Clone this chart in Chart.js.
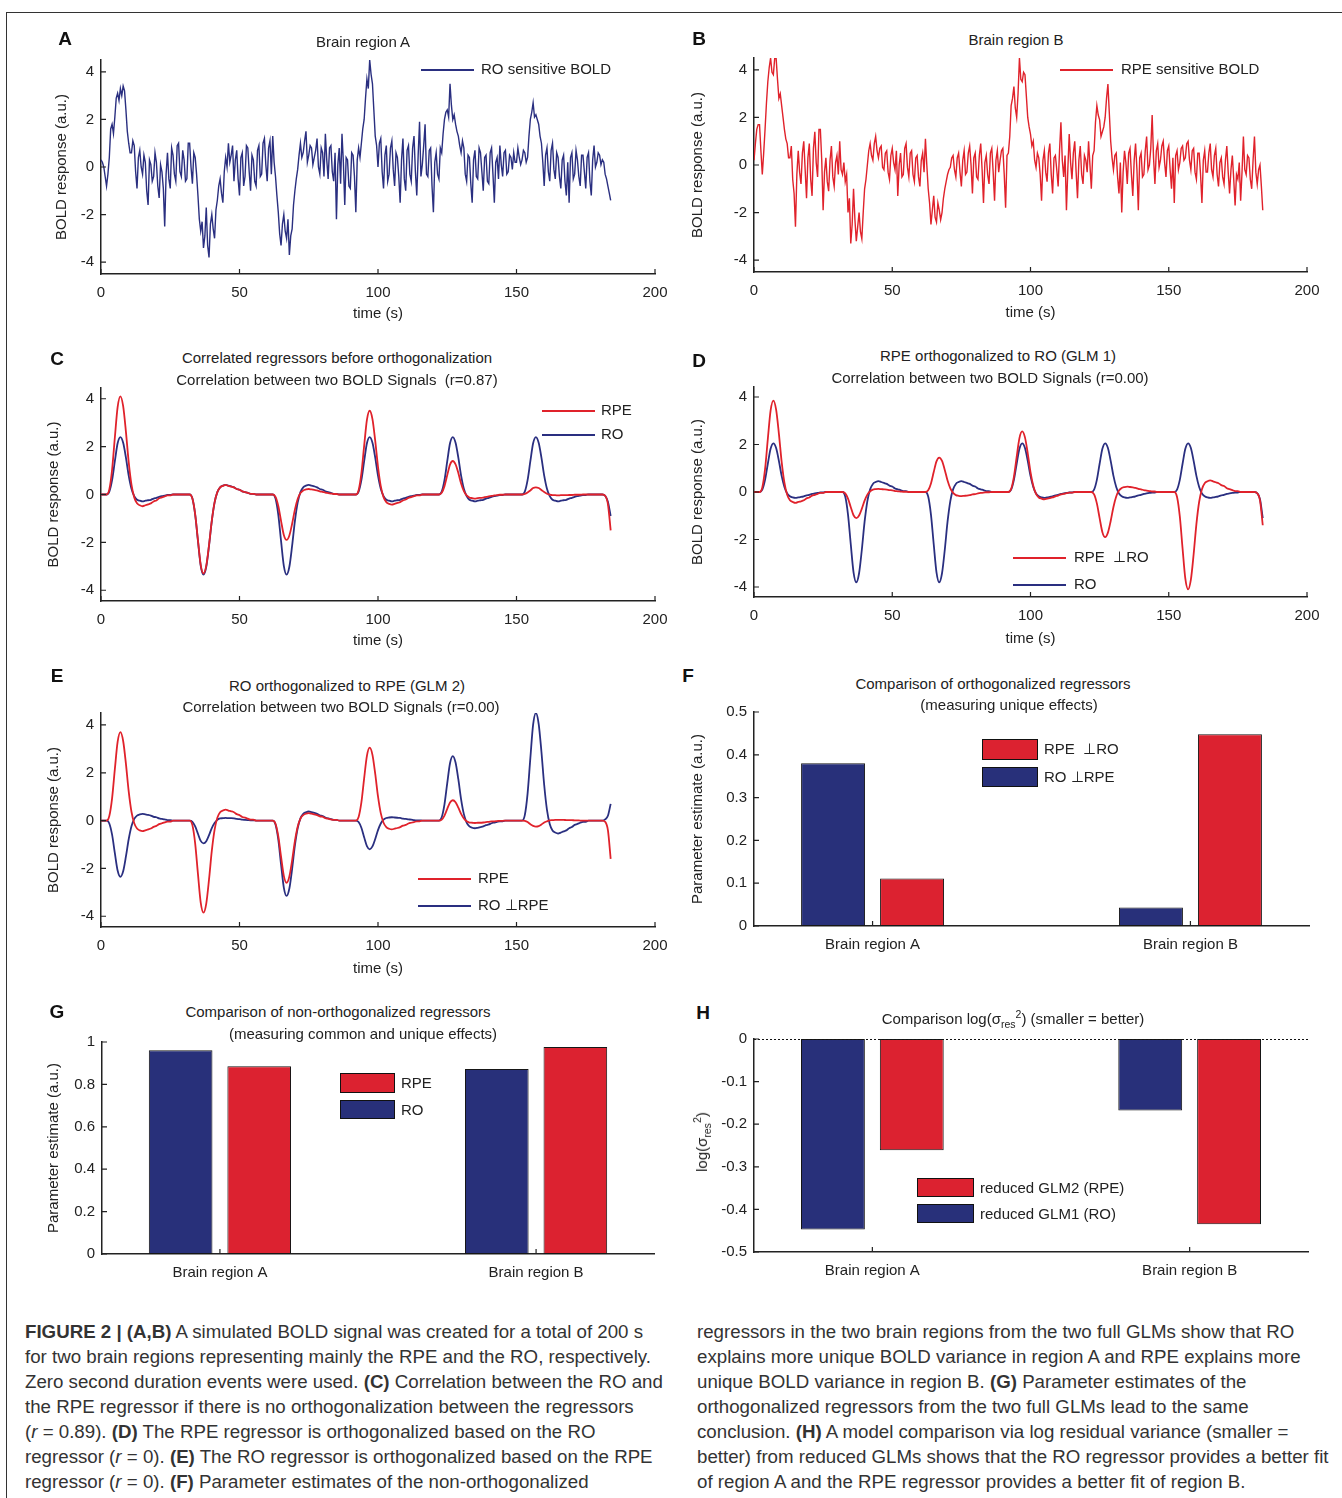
<!DOCTYPE html>
<html><head><meta charset="utf-8">
<script src="https://cdn.jsdelivr.net/npm/chart.js@4.4.1/dist/chart.umd.min.js"></script>
<style>
body{margin:0;background:#fff;}
#page{position:relative;width:1342px;height:1498px;overflow:hidden;font-family:"Liberation Sans",Arial,Helvetica,sans-serif;color:#222;background:#fff;}
.frame{position:absolute;left:6px;top:12px;width:1340px;height:1490px;border-left:1px solid #333;border-top:1px solid #333;}
canvas{position:absolute;}
.t{position:absolute;transform:translate(-50%,-50%);white-space:nowrap;font-size:15px;color:#222;z-index:2;}
.lt{position:absolute;font-weight:bold;font-size:19px;transform:translate(-50%,-50%);z-index:2;color:#111;}
.cap{position:absolute;white-space:nowrap;font-size:18.7px;color:#333;transform:translateY(-50%);}
.rot{position:absolute;transform:translate(-50%,-50%) rotate(-90deg);white-space:nowrap;font-size:15px;z-index:2;}
sub,sup{font-size:10.5px;}
</style></head>
<body>
<div id="page">
<div class="frame"></div>

<div class="lt" style="left:65px;top:39px">A</div>
<div class="lt" style="left:699px;top:39px">B</div>
<div class="lt" style="left:57px;top:359px">C</div>
<div class="lt" style="left:699px;top:361px">D</div>
<div class="lt" style="left:57px;top:676px">E</div>
<div class="lt" style="left:688px;top:676px">F</div>
<div class="lt" style="left:57px;top:1012px">G</div>
<div class="lt" style="left:703px;top:1013px">H</div>

<div class="t" style="left:363px;top:41px">Brain region A</div>
<div class="t" style="left:1016px;top:39px">Brain region B</div>
<div class="t" style="left:337px;top:357px">Correlated regressors before orthogonalization</div>
<div class="t" style="left:337px;top:379px">Correlation between two BOLD Signals&nbsp; (r=0.87)</div>
<div class="t" style="left:998px;top:355px">RPE orthogonalized to RO (GLM 1)</div>
<div class="t" style="left:990px;top:377px">Correlation between two BOLD Signals (r=0.00)</div>
<div class="t" style="left:347px;top:685px">RO orthogonalized to RPE (GLM 2)</div>
<div class="t" style="left:341px;top:706px">Correlation between two BOLD Signals (r=0.00)</div>
<div class="t" style="left:993px;top:683px">Comparison of orthogonalized regressors</div>
<div class="t" style="left:1009px;top:704px">(measuring unique effects)</div>
<div class="t" style="left:338px;top:1011px">Comparison of non-orthogonalized regressors</div>
<div class="t" style="left:363px;top:1033px">(measuring common and unique effects)</div>
<div class="t" style="left:1013px;top:1019px">Comparison log(σ<sub>res</sub><sup>2</sup>) (smaller = better)</div>
<div class="rot" style="left:702px;top:1142px">log(σ<sub>res</sub><sup>2</sup>)</div>

<div class="cap" style="left:25px;top:1332px"><b>FIGURE 2 | (A,B)</b> A simulated BOLD signal was created for a total of 200 s</div>
<div class="cap" style="left:25px;top:1357px">for two brain regions representing mainly the RPE and the RO, respectively.</div>
<div class="cap" style="left:25px;top:1382px">Zero second duration events were used. <b>(C)</b> Correlation between the RO and</div>
<div class="cap" style="left:25px;top:1407px">the RPE regressor if there is no orthogonalization between the regressors</div>
<div class="cap" style="left:25px;top:1432px">(<i>r</i> = 0.89). <b>(D)</b> The RPE regressor is orthogonalized based on the RO</div>
<div class="cap" style="left:25px;top:1457px">regressor (<i>r</i> = 0). <b>(E)</b> The RO regressor is orthogonalized based on the RPE</div>
<div class="cap" style="left:25px;top:1482px">regressor (<i>r</i> = 0). <b>(F)</b> Parameter estimates of the non-orthogonalized</div>
<div class="cap" style="left:697px;top:1332px">regressors in the two brain regions from the two full GLMs show that RO</div>
<div class="cap" style="left:697px;top:1357px">explains more unique BOLD variance in region A and RPE explains more</div>
<div class="cap" style="left:697px;top:1382px">unique BOLD variance in region B. <b>(G)</b> Parameter estimates of the</div>
<div class="cap" style="left:697px;top:1407px">orthogonalized regressors from the two full GLMs lead to the same</div>
<div class="cap" style="left:697px;top:1432px">conclusion. <b>(H)</b> A model comparison via log residual variance (smaller =</div>
<div class="cap" style="left:697px;top:1457px">better) from reduced GLMs shows that the RO regressor provides a better fit</div>
<div class="cap" style="left:697px;top:1482px">of region A and the RPE regressor provides a better fit of region B.</div>
</div>

<script>
// ---------------- DATA ----------------
// time grid of the simulated (noisy) BOLD signals, seconds
const T_HALF = [0,0.5,1,1.5,2,2.5,3,3.5,4,4.5,5,5.5,6,6.5,7,7.5,8,8.5,9,9.5,10,10.5,11,11.5,12,12.5,13,13.5,14,14.5,15,15.5,16,16.5,17,17.5,18,18.5,19,19.5,
20,20.5,21,21.5,22,22.5,23,23.5,24,24.5,25,25.5,26,26.5,27,27.5,28,28.5,29,29.5,30,30.5,31,31.5,32,32.5,33,33.5,34,34.5,35,35.5,36,36.5,37,37.5,38,38.5,39,39.5,
40,40.5,41,41.5,42,42.5,43,43.5,44,44.5,45,45.5,46,46.5,47,47.5,48,48.5,49,49.5,50,50.5,51,51.5,52,52.5,53,53.5,54,54.5,55,55.5,56,56.5,57,57.5,58,58.5,59,59.5,
60,60.5,61,61.5,62,62.5,63,63.5,64,64.5,65,65.5,66,66.5,67,67.5,68,68.5,69,69.5,70,70.5,71,71.5,72,72.5,73,73.5,74,74.5,75,75.5,76,76.5,77,77.5,78,78.5,79,79.5,
80,80.5,81,81.5,82,82.5,83,83.5,84,84.5,85,85.5,86,86.5,87,87.5,88,88.5,89,89.5,90,90.5,91,91.5,92,92.5,93,93.5,94,94.5,95,95.5,96,96.5,97,97.5,98,98.5,99,99.5,
100,100.5,101,101.5,102,102.5,103,103.5,104,104.5,105,105.5,106,106.5,107,107.5,108,108.5,109,109.5,110,110.5,111,111.5,112,112.5,113,113.5,114,114.5,115,115.5,116,116.5,117,117.5,118,118.5,119,119.5,
120,120.5,121,121.5,122,122.5,123,123.5,124,124.5,125,125.5,126,126.5,127,127.5,128,128.5,129,129.5,130,130.5,131,131.5,132,132.5,133,133.5,134,134.5,135,135.5,136,136.5,137,137.5,138,138.5,139,139.5,
140,140.5,141,141.5,142,142.5,143,143.5,144,144.5,145,145.5,146,146.5,147,147.5,148,148.5,149,149.5,150,150.5,151,151.5,152,152.5,153,153.5,154,154.5,155,155.5,156,156.5,157,157.5,158,158.5,159,159.5,
160,160.5,161,161.5,162,162.5,163,163.5,164,164.5,165,165.5,166,166.5,167,167.5,168,168.5,169,169.5,170,170.5,171,171.5,172,172.5,173,173.5,174,174.5,175,175.5,176,176.5,177,177.5,178,178.5,179,179.5,
180,180.5,181,181.5,182,182.5,183,183.5,184];
// time grid of the regressors, seconds
const T = [0,1,2,3,4,5,6,7,8,9,10,11,12,13,14,15,16,17,18,19,20,21,22,23,24,25,26,27,28,29,30,31,32,33,34,35,36,37,38,39,40,41,42,43,44,45,46,47,48,49,50,51,52,53,54,55,56,57,58,59,60,61,62,63,64,65,66,67,68,69,70,71,72,73,74,75,76,77,78,79,80,81,82,83,84,85,86,87,88,89,90,91,92,93,94,95,96,97,98,99,100,101,102,103,104,105,106,107,108,109,110,111,112,113,114,115,116,117,118,119,120,121,122,123,124,125,126,127,128,129,130,131,132,133,134,135,136,137,138,139,140,141,142,143,144,145,146,147,148,149,150,151,152,153,154,155,156,157,158,159,160,161,162,163,164,165,166,167,168,169,170,171,172,173,174,175,176,177,178,179,180,181,182,183,184];

const X_TICKS_TIME = [0,50,100,150,200];
const Y_TICKS_BOLD = [-4,-2,0,2,4];
const Y_TICKS_F = [0,0.1,0.2,0.3,0.4,0.5];
const Y_TICKS_G = [0,0.2,0.4,0.6,0.8,1];
const Y_TICKS_H = [-0.5,-0.4,-0.3,-0.2,-0.1,0];
const REGIONS = ['Brain region A','Brain region B'];
const REGION_POS = [1,2];

// Panel A: RO sensitive BOLD (region A), on T_HALF
const A_RO_BOLD = [
0.3,0.2,0.0,-0.4,-0.8,-0.3,0.4,1.6,1.8,1.4,2.1,2.9,3.1,2.8,3.3,3.0,3.4,3.2,2.4,1.5,
1.0,0.6,0.6,1.1,0.9,-0.2,-0.9,0.4,0.7,0.0,-0.3,0.5,0.2,-1.0,-1.6,0.3,0.1,-0.6,-0.4,0.6,
0.2,-0.8,-1.3,0.1,-0.2,-0.9,-2.5,-0.3,0.6,-0.5,-0.9,0.8,0.5,-0.3,-0.6,0.9,1.0,-0.2,-0.4,0.7,
0.3,-0.6,-0.5,1.0,1.0,0.0,-0.7,0.6,0.4,-0.3,-1.2,-2.2,-2.7,-2.3,-3.4,-2.9,-1.7,-3.3,-3.8,-2.4,
-2.0,-2.6,-3.0,-1.8,-1.4,-0.8,-0.5,-1.1,-1.5,-0.2,0.4,0.0,1.0,0.2,0.5,0.9,-0.6,0.3,0.7,-0.5,
-1.2,0.4,0.6,-0.8,-0.4,0.9,0.8,-0.2,-1.0,0.5,0.3,-0.6,-0.8,0.7,0.9,-0.4,-0.3,1.0,1.2,0.1,
-0.6,0.8,1.1,-0.3,1.3,0.2,-0.4,-1.2,-1.9,-2.8,-3.3,-2.4,-2.0,-2.7,-3.0,-2.2,-3.7,-2.9,-2.6,-1.6,
-1.0,-0.5,-0.1,0.5,1.0,0.4,0.6,1.1,1.5,0.2,0.5,0.9,0.8,0.1,0.4,0.7,1.2,0.0,-0.3,0.8,
0.6,-0.4,1.4,0.3,-0.5,0.8,0.9,-0.2,-0.6,0.6,-2.2,0.1,0.8,-0.7,1.4,0.2,-1.6,0.4,0.3,-0.8,
-0.9,0.6,0.5,-0.4,-1.9,0.3,0.8,0.4,1.0,1.6,2.0,2.9,3.7,3.3,4.5,3.9,3.5,2.4,1.3,0.9,
0.0,1.0,1.2,-0.2,-0.9,0.5,0.9,-0.6,-0.3,0.8,1.1,-0.1,-0.8,0.6,0.4,-0.4,-1.5,0.3,1.2,-0.5,
-1.0,0.7,0.9,-0.3,-0.6,0.8,1.3,-0.2,-1.2,0.5,1.9,-0.4,0.1,0.9,1.8,-0.3,-0.4,0.7,0.8,-0.8,
-1.9,0.2,0.6,-0.3,-0.5,0.8,0.6,1.4,2.0,2.3,2.4,2.1,3.5,2.6,2.0,2.2,1.8,1.5,1.3,0.9,
0.6,1.1,0.8,-0.3,-0.6,0.5,0.4,-0.7,-1.5,0.3,0.7,-0.4,-0.5,0.8,0.6,-0.2,-1.0,0.4,0.5,-0.6,
-0.7,0.6,0.8,-0.3,-1.5,0.2,0.4,-0.5,0.9,0.1,-0.4,0.6,0.7,-0.3,-0.2,0.5,0.4,-0.1,0.6,0.2,
0.2,0.8,0.4,0.1,0.3,0.7,0.6,0.2,0.4,1.3,2.0,2.3,2.7,2.1,2.2,2.0,1.8,1.3,1.0,0.2,
-0.8,0.5,0.8,-0.2,-0.6,0.7,1.0,-0.1,-0.5,0.6,0.4,-0.4,-0.9,0.3,0.5,-0.6,-1.2,0.2,-1.5,0.4,
0.6,-0.5,-0.3,0.7,0.3,-0.4,-0.8,0.5,0.5,-0.2,-0.9,0.4,0.6,-0.6,-1.2,0.3,0.9,0.0,0.2,0.6,
0.5,0.1,0.3,0.2,-0.3,-0.5,-0.8,-1.1,-1.4];

// Panel B: RPE sensitive BOLD (region B), on T_HALF
const B_RPE_BOLD = [
0.2,0.9,1.5,1.7,1.7,0.6,-0.4,0.5,1.5,2.6,3.5,4.1,4.5,3.9,3.8,4.5,4.5,3.6,2.8,3.0,
2.5,2.0,1.5,1.1,0.9,0.3,0.3,0.8,-0.6,-1.2,-2.6,-0.4,0.6,-0.3,-0.8,0.5,1.0,-0.2,-1.4,0.3,
0.9,-0.6,-1.3,0.7,1.4,0.1,-0.5,1.5,1.5,0.2,-1.9,-0.3,0.3,-0.7,-1.1,0.2,0.8,-0.5,-0.9,0.1,
0.4,-0.4,1.0,-0.2,-0.4,0.1,-0.7,-0.4,-2.0,-1.4,-3.3,-2.5,-1.0,-2.3,-3.2,-2.6,-2.0,-2.8,-3.1,-2.0,
-1.0,-0.6,0.0,0.6,0.9,0.4,0.2,0.9,1.2,0.6,0.3,0.7,0.8,-0.1,-0.2,0.5,0.6,-0.3,-0.6,0.4,
0.7,0.1,-0.2,0.6,-1.3,0.0,0.5,-0.5,-0.4,0.7,0.9,-0.1,-0.5,0.5,0.6,-0.4,-0.7,0.3,0.4,-0.5,
-0.9,0.2,0.5,-0.3,1.1,0.0,-1.0,-1.6,-2.5,-1.9,-1.3,-2.2,-2.4,-1.6,-1.9,-2.3,-2.0,-1.4,-1.0,-0.7,
-0.4,-0.2,-0.1,0.3,0.4,-0.2,-0.5,0.3,0.5,-0.3,-0.9,0.2,0.6,-0.4,-0.3,0.5,0.8,0.0,-1.2,0.3,
0.5,-0.5,-0.6,0.4,0.9,-0.2,-1.6,0.1,0.4,-0.4,-0.8,0.5,0.7,-0.3,-1.5,0.2,0.6,-0.3,0.2,0.6,
0.7,-0.4,-1.8,0.4,0.5,1.2,2.5,2.8,3.3,2.4,2.0,3.0,4.5,3.6,3.5,3.9,3.8,2.9,2.0,1.6,
1.3,0.8,1.0,0.2,-0.1,0.5,0.3,-0.4,-1.5,0.2,0.6,-0.3,-0.7,0.5,0.9,-0.4,-1.2,0.3,0.4,-0.2,
-0.9,0.6,1.8,0.2,-0.5,0.4,-1.9,-0.2,1.3,0.1,-0.6,0.5,1.0,-0.3,-1.4,0.2,0.8,-0.4,-0.8,0.4,
0.2,-0.3,1.0,0.0,-1.0,0.4,0.6,1.8,2.5,2.1,1.9,1.2,1.4,1.6,2.0,2.8,3.4,2.2,1.0,0.3,
-0.2,0.4,0.5,-0.5,-1.2,0.1,-2.0,-0.3,0.6,0.1,-0.8,0.5,0.7,-0.4,-1.3,0.2,0.9,-0.2,-1.9,0.3,
0.5,-0.5,-0.4,0.6,1.2,-0.2,0.0,0.7,2.1,0.3,-0.8,0.6,0.9,-0.1,0.2,0.8,1.0,0.1,-0.5,0.6,
0.8,-0.2,-1.0,0.3,-1.6,0.4,0.6,-0.2,0.1,0.7,0.8,0.2,0.3,0.9,1.0,0.2,-0.2,0.6,0.7,-0.3,
-0.6,0.5,0.5,-0.4,-1.6,0.2,0.6,-0.3,-0.3,0.5,0.9,-0.2,-0.5,0.4,0.7,-0.4,-0.9,0.1,0.3,-0.5,
-0.8,0.2,0.8,-0.3,-1.2,-0.2,0.4,-0.6,-1.7,-0.4,-0.6,0.1,-1.5,-0.3,1.2,-0.2,-0.4,0.4,0.3,-0.6,
-1.0,0.2,1.2,-0.3,-0.8,-0.2,0.0,-0.9,-1.9];

// Panel C: correlated regressors, on T
const C_RPE = [0,0,
0,.21,1.03,2.38,3.65,4.1,3.69,2.62,1.35,.41,-.12,-.37,-.45,-.49,-.45,-.41,-.37,-.29,-.25,-.16,-.12,-.08,-.04,-.04,0,0,0,0,
0,0,
0,-.17,-.83,-1.91,-2.94,-3.3,-2.97,-2.11,-1.09,-.33,.1,.3,.36,.4,.36,.33,.3,.23,.2,.13,.1,.07,.03,.03,0,0,0,0,
0,0,
0,-.1,-.48,-1.1,-1.69,-1.9,-1.71,-1.22,-.63,-.19,.06,.17,.21,.23,.21,.19,.17,.13,.11,.08,.06,.04,.02,.02,0,0,0,0,
0,0,
0,.18,.88,2.03,3.12,3.5,3.15,2.24,1.16,.35,-.11,-.32,-.39,-.42,-.39,-.35,-.32,-.25,-.21,-.14,-.11,-.07,-.04,-.04,0,0,0,0,
0,0,
0,.07,.35,.81,1.25,1.4,1.26,.9,.46,.14,-.04,-.13,-.15,-.17,-.15,-.14,-.13,-.1,-.08,-.06,-.04,-.03,-.01,-.01,0,0,0,0,
0,0,
0,.02,.08,.17,.27,.3,.27,.19,.1,.03,-.01,-.03,-.03,-.04,-.03,-.03,-.03,-.02,-.02,-.01,-.01,-.01,0,0,0,0,0,0,
0,0,-.05,-.4,-1.5];
const C_RO = [0,0,
0,.12,.6,1.39,2.14,2.4,2.16,1.54,.79,.24,-.07,-.22,-.26,-.29,-.26,-.24,-.22,-.17,-.14,-.1,-.07,-.05,-.02,-.02,0,0,0,0,
0,0,
0,-.17,-.84,-1.94,-2.98,-3.35,-3.02,-2.14,-1.11,-.34,.1,.3,.37,.4,.37,.34,.3,.23,.2,.13,.1,.07,.03,.03,0,0,0,0,
0,0,
0,-.17,-.84,-1.94,-2.98,-3.35,-3.02,-2.14,-1.11,-.34,.1,.3,.37,.4,.37,.34,.3,.23,.2,.13,.1,.07,.03,.03,0,0,0,0,
0,0,
0,.12,.6,1.39,2.14,2.4,2.16,1.54,.79,.24,-.07,-.22,-.26,-.29,-.26,-.24,-.22,-.17,-.14,-.1,-.07,-.05,-.02,-.02,0,0,0,0,
0,0,
0,.12,.6,1.39,2.14,2.4,2.16,1.54,.79,.24,-.07,-.22,-.26,-.29,-.26,-.24,-.22,-.17,-.14,-.1,-.07,-.05,-.02,-.02,0,0,0,0,
0,0,
0,.12,.6,1.39,2.14,2.4,2.16,1.54,.79,.24,-.07,-.22,-.26,-.29,-.26,-.24,-.22,-.17,-.14,-.1,-.07,-.05,-.02,-.02,0,0,0,0,
0,0,-.05,-.3,-.9];

// Panel D: RPE orthogonalized to RO (GLM 1), on T
const D_RPE_ORTH = [0,0,
0,.19,.96,2.23,3.43,3.85,3.47,2.46,1.27,.39,-.12,-.35,-.42,-.46,-.42,-.39,-.35,-.27,-.23,-.15,-.12,-.08,-.04,-.04,0,0,0,0,
0,0,
0,-.06,-.28,-.64,-.98,-1.1,-.99,-.7,-.36,-.11,.03,.1,.12,.13,.12,.11,.1,.08,.07,.04,.03,.02,.01,.01,0,0,0,0,
0,0,
0,.07,.36,.84,1.29,1.45,1.31,.93,.48,.15,-.04,-.13,-.16,-.17,-.16,-.15,-.13,-.1,-.09,-.06,-.04,-.03,-.01,-.01,0,0,0,0,
0,0,
0,.13,.64,1.48,2.27,2.55,2.3,1.63,.84,.26,-.08,-.23,-.28,-.31,-.28,-.26,-.23,-.18,-.15,-.1,-.08,-.05,-.03,-.03,0,0,0,0,
0,0,
0,-.1,-.48,-1.1,-1.69,-1.9,-1.71,-1.22,-.63,-.19,.06,.17,.21,.23,.21,.19,.17,.13,.11,.08,.06,.04,.02,.02,0,0,0,0,
0,0,
0,-.21,-1.03,-2.38,-3.65,-4.1,-3.69,-2.62,-1.35,-.41,.12,.37,.45,.49,.45,.41,.37,.29,.25,.16,.12,.08,.04,.04,0,0,0,0,
0,0,-.05,-.35,-1.4];
const D_RO = [0,0,
0,.1,.51,1.19,1.82,2.05,1.85,1.31,.68,.21,-.06,-.18,-.23,-.25,-.23,-.21,-.18,-.14,-.12,-.08,-.06,-.04,-.02,-.02,0,0,0,0,
0,0,
0,-.19,-.95,-2.2,-3.38,-3.8,-3.42,-2.43,-1.25,-.38,.11,.34,.42,.46,.42,.38,.34,.27,.23,.15,.11,.08,.04,.04,0,0,0,0,
0,0,
0,-.19,-.95,-2.2,-3.38,-3.8,-3.42,-2.43,-1.25,-.38,.11,.34,.42,.46,.42,.38,.34,.27,.23,.15,.11,.08,.04,.04,0,0,0,0,
0,0,
0,.1,.51,1.19,1.82,2.05,1.85,1.31,.68,.21,-.06,-.18,-.23,-.25,-.23,-.21,-.18,-.14,-.12,-.08,-.06,-.04,-.02,-.02,0,0,0,0,
0,0,
0,.1,.51,1.19,1.82,2.05,1.85,1.31,.68,.21,-.06,-.18,-.23,-.25,-.23,-.21,-.18,-.14,-.12,-.08,-.06,-.04,-.02,-.02,0,0,0,0,
0,0,
0,.1,.51,1.19,1.82,2.05,1.85,1.31,.68,.21,-.06,-.18,-.23,-.25,-.23,-.21,-.18,-.14,-.12,-.08,-.06,-.04,-.02,-.02,0,0,0,0,
0,0,-.05,-.3,-1.1];

// Panel E: RO orthogonalized to RPE (GLM 2), on T
const E_RPE = [0,0,
0,.19,.93,2.15,3.29,3.7,3.33,2.37,1.22,.37,-.11,-.33,-.41,-.44,-.41,-.37,-.33,-.26,-.22,-.15,-.11,-.07,-.04,-.04,0,0,0,0,
0,0,
0,-.19,-.96,-2.23,-3.43,-3.85,-3.47,-2.46,-1.27,-.39,.12,.35,.42,.46,.42,.39,.35,.27,.23,.15,.12,.08,.04,.04,0,0,0,0,
0,0,
0,-.13,-.65,-1.51,-2.31,-2.6,-2.34,-1.66,-.86,-.26,.08,.23,.29,.31,.29,.26,.23,.18,.16,.1,.08,.05,.03,.03,0,0,0,0,
0,0,
0,.15,.76,1.77,2.71,3.05,2.75,1.95,1.01,.31,-.09,-.27,-.34,-.37,-.34,-.31,-.27,-.21,-.18,-.12,-.09,-.06,-.03,-.03,0,0,0,0,
0,0,
0,.04,.21,.49,.76,.85,.77,.54,.28,.09,-.03,-.08,-.09,-.1,-.09,-.09,-.08,-.06,-.05,-.03,-.03,-.02,-.01,-.01,0,0,0,0,
0,0,
0,-.01,-.06,-.15,-.22,-.25,-.23,-.16,-.08,-.03,.01,.02,.03,.03,.03,.03,.02,.02,.02,.01,.01,0,0,0,0,0,0,0,
0,0,-.05,-.4,-1.6];
const E_RO_ORTH = [0,0,
0,-.12,-.59,-1.36,-2.09,-2.35,-2.12,-1.5,-.78,-.24,.07,.21,.26,.28,.26,.24,.21,.16,.14,.09,.07,.05,.02,.02,0,0,0,0,
0,0,
0,-.05,-.24,-.55,-.85,-.95,-.86,-.61,-.31,-.1,.03,.09,.1,.11,.1,.1,.09,.07,.06,.04,.03,.02,.01,.01,0,0,0,0,
0,0,
0,-.16,-.79,-1.83,-2.8,-3.15,-2.84,-2.02,-1.04,-.32,.09,.28,.35,.38,.35,.32,.28,.22,.19,.13,.09,.06,.03,.03,0,0,0,0,
0,0,
0,-.06,-.3,-.7,-1.07,-1.2,-1.08,-.77,-.4,-.12,.04,.11,.13,.14,.13,.12,.11,.08,.07,.05,.04,.02,.01,.01,0,0,0,0,
0,0,
0,.14,.68,1.57,2.4,2.7,2.43,1.73,.89,.27,-.08,-.24,-.3,-.32,-.3,-.27,-.24,-.19,-.16,-.11,-.08,-.05,-.03,-.03,0,0,0,0,
0,0,
0,.23,1.13,2.61,4.01,4.5,4.05,2.88,1.49,.45,-.14,-.41,-.5,-.54,-.5,-.45,-.41,-.32,-.27,-.18,-.14,-.09,-.05,-.05,0,0,0,0,
0,0,.05,.2,.7];

// Panel F: orthogonalized parameter estimates
const F_RO_ORTH = [0.380, 0.043];
const F_RPE_ORTH = [0.111, 0.448];
// Panel G: non-orthogonalized parameter estimates
const G_RO = [0.961, 0.873];
const G_RPE = [0.886, 0.977];
// Panel H: log residual variance of reduced GLMs
const H_GLM1_RO = [-0.447, -0.168];
const H_GLM2_RPE = [-0.261, -0.435];
const H_ZERO = [0, 0];

// ---------------- STYLE / LAYOUT ----------------
const BLUE_LINE = '#2a2f80', RED_LINE = '#e0222b';
const BLUE_BAR = '#28307a', RED_BAR = '#dc2230';
const FONT = '"Liberation Sans", Arial, Helvetica, sans-serif';
const FS = 15, LH = FS * 1.2;
const BAR_XMIN = 0.627, BAR_XMAX = 2.373;
Chart.defaults.font.family = FONT;
Chart.defaults.font.size = FS;
Chart.defaults.color = '#222';

const mlTicks = {
  id: 'mlTicks',
  afterDraw(chart) {
    const {ctx, chartArea: a, scales: {x, y}} = chart;
    ctx.save();
    ctx.strokeStyle = '#222'; ctx.lineWidth = 1.2;
    ctx.beginPath();
    x.ticks.forEach(t => { const p = x.getPixelForValue(t.value); ctx.moveTo(p, a.bottom); ctx.lineTo(p, a.bottom - 5); });
    y.ticks.forEach(t => { const p = y.getPixelForValue(t.value); ctx.moveTo(a.left, p); ctx.lineTo(a.left + 5, p); });
    ctx.stroke();
    ctx.restore();
  }
};
const mlLegend = {
  id: 'mlLegend',
  afterDraw(chart, args, opts) {
    if (!opts || !opts.items) return;
    const ctx = chart.ctx, ox = opts.ox, oy = opts.oy;
    ctx.save();
    ctx.font = FS + 'px ' + FONT;
    ctx.textBaseline = 'middle';
    opts.items.forEach(it => {
      const ds = chart.data.datasets[it.ds];
      if (it.box) {
        const [bx0, by0, bx1, by1] = it.box;
        ctx.fillStyle = ds.backgroundColor;
        ctx.fillRect(bx0 - ox, by0 - oy, bx1 - bx0, by1 - by0);
        ctx.strokeStyle = '#111'; ctx.lineWidth = 1;
        ctx.strokeRect(bx0 - ox + 0.5, by0 - oy + 0.5, bx1 - bx0 - 1, by1 - by0 - 1);
      } else {
        ctx.strokeStyle = ds.borderColor; ctx.lineWidth = 1.8;
        ctx.beginPath(); ctx.moveTo(it.x1 - ox, it.y - oy); ctx.lineTo(it.x2 - ox, it.y - oy); ctx.stroke();
      }
      ctx.fillStyle = '#222';
      ctx.fillText(ds.label, it.tx - ox, it.y - oy);
    });
    ctx.restore();
  }
};

const page = document.getElementById('page');

function build(spec) {
  const [cx0, cy0, cx1, cy1] = spec.canvas;
  const [pl, pt, pr, pb] = spec.plot;
  const W = cx1 - cx0, H = cy1 - cy0;
  const cv = document.createElement('canvas');
  cv.width = W; cv.height = H;
  cv.style.left = cx0 + 'px'; cv.style.top = cy0 + 'px';
  cv.style.width = W + 'px'; cv.style.height = H + 'px';
  page.appendChild(cv);
  const wy = spec.yTitleX != null ? pl - spec.yTitleX + LH / 2 : 50;
  const hx = spec.xTitleY != null ? spec.xTitleY - pb + LH / 2 : 40;
  const padding = {left: pl - wy - cx0, top: pt - cy0, right: cx1 - pr, bottom: cy1 - (pb + hx)};
  const zeroPad = s => { s.paddingLeft = 0; s.paddingRight = 0; s.paddingTop = 0; s.paddingBottom = 0; };
  new Chart(cv, {
    type: spec.type,
    data: {datasets: spec.datasets},
    options: {
      responsive: false, animation: false, devicePixelRatio: 1,
      layout: {padding, autoPadding: false},
      plugins: {legend: {display: false}, tooltip: {enabled: false},
        mlLegend: {items: spec.legend, ox: cx0, oy: cy0}},
      scales: {
        x: {type: 'linear', position: 'bottom', min: spec.xMin, max: spec.xMax, offset: false, z: 1,
          grid: {display: false, drawTicks: false},
          border: {display: true, color: '#222', width: 1.5},
          ticks: {padding: 10, autoSkip: false, maxRotation: 0, minRotation: 0, color: '#222',
            callback: spec.xLabel},
          title: spec.xTitle ? {display: true, text: spec.xTitle, padding: 0, color: '#222'} : {display: false},
          afterBuildTicks: s => { s.ticks = spec.xTicks.map(v => ({value: v})); },
          afterFit: s => { s.height = hx; zeroPad(s); }
        },
        y: {type: 'linear', position: 'left', min: spec.yMin, max: spec.yMax, z: 1,
          grid: {display: false, drawTicks: false},
          border: {display: true, color: '#222', width: 1.5},
          ticks: {padding: 7, autoSkip: false, color: '#222', callback: v => String(v)},
          title: spec.yTitle ? {display: true, text: spec.yTitle, padding: 0, color: '#222'} : {display: false},
          afterBuildTicks: s => { s.ticks = spec.yTicks.map(v => ({value: v})); },
          afterFit: s => { s.width = wy; zeroPad(s); }
        }
      }
    },
    plugins: [mlTicks, mlLegend]
  });
}

function lineDs(label, times, vals, color, width, smooth) {
  return {label, data: times.map((t, i) => ({x: t, y: vals[i]})), borderColor: color, borderWidth: width,
    pointRadius: 0, fill: false, tension: 0, cubicInterpolationMode: smooth ? 'monotone' : 'default'};
}
function barDs(label, vals, color) {
  return {type: 'bar', label, data: REGION_POS.map((p, i) => ({x: p, y: vals[i]})), backgroundColor: color,
    borderColor: '#161616', borderWidth: 1, borderSkipped: false, categoryPercentage: 0.497, barPercentage: 0.81, order: 2};
}
const timeLabel = v => String(v);
const regionLabel = v => REGIONS[REGION_POS.indexOf(v)] || '';

const lineCommon = {type: 'line', xMin: 0, xMax: 200, xTicks: X_TICKS_TIME, yTicks: Y_TICKS_BOLD,
  xLabel: timeLabel, xTitle: 'time (s)', yTitle: 'BOLD response (a.u.)'};
const barCommon = {type: 'bar', xMin: BAR_XMIN, xMax: BAR_XMAX, xTicks: REGION_POS, xLabel: regionLabel, xTitle: null,
  yTitle: 'Parameter estimate (a.u.)'};

build(Object.assign({}, lineCommon, {canvas: [10, 48, 680, 334], plot: [101, 60, 655, 274], yTitleX: 62, xTitleY: 314,
  yMin: -4.5, yMax: 4.5,
  datasets: [lineDs('RO sensitive BOLD', T_HALF, A_RO_BOLD, BLUE_LINE, 1.4, false)],
  legend: [{ds: 0, x1: 421, x2: 474, y: 70, tx: 481}]}));
build(Object.assign({}, lineCommon, {canvas: [680, 48, 1336, 334], plot: [754, 58, 1307, 272], yTitleX: 698, xTitleY: 313,
  yMin: -4.5, yMax: 4.5,
  datasets: [lineDs('RPE sensitive BOLD', T_HALF, B_RPE_BOLD, RED_LINE, 1.4, false)],
  legend: [{ds: 0, x1: 1060, x2: 1113, y: 70, tx: 1121}]}));
build(Object.assign({}, lineCommon, {canvas: [10, 382, 680, 662], plot: [101, 388, 655, 601], yTitleX: 54, xTitleY: 641,
  yMin: -4.45, yMax: 4.45,
  datasets: [lineDs('RPE', T, C_RPE, RED_LINE, 1.8, true), lineDs('RO', T, C_RO, BLUE_LINE, 1.8, true)],
  legend: [{ds: 0, x1: 542, x2: 595, y: 411, tx: 601}, {ds: 1, x1: 542, x2: 595, y: 435, tx: 601}]}));
build(Object.assign({}, lineCommon, {canvas: [680, 382, 1336, 662], plot: [754, 387, 1307, 597], yTitleX: 698, xTitleY: 639,
  yMin: -4.42, yMax: 4.42,
  datasets: [lineDs('RPE  \u22A5RO', T, D_RPE_ORTH, RED_LINE, 1.8, true), lineDs('RO', T, D_RO, BLUE_LINE, 1.8, true)],
  legend: [{ds: 0, x1: 1013, x2: 1066, y: 558, tx: 1074}, {ds: 1, x1: 1013, x2: 1066, y: 585, tx: 1074}]}));
build(Object.assign({}, lineCommon, {canvas: [10, 710, 680, 990], plot: [101, 713, 655, 927], yTitleX: 54, xTitleY: 969,
  yMin: -4.45, yMax: 4.5,
  datasets: [lineDs('RPE', T, E_RPE, RED_LINE, 1.8, true), lineDs('RO \u22A5RPE', T, E_RO_ORTH, BLUE_LINE, 1.8, true)],
  legend: [{ds: 0, x1: 418, x2: 471, y: 879, tx: 478}, {ds: 1, x1: 418, x2: 471, y: 906, tx: 478}]}));

build(Object.assign({}, barCommon, {canvas: [680, 694, 1336, 990], plot: [754, 712, 1309, 926], yTitleX: 698,
  yMin: 0, yMax: 0.5, yTicks: Y_TICKS_F,
  datasets: [barDs('RO \u22A5RPE', F_RO_ORTH, BLUE_BAR), barDs('RPE  \u22A5RO', F_RPE_ORTH, RED_BAR)],
  legend: [{ds: 1, box: [982, 739, 1038, 760], y: 750, tx: 1044}, {ds: 0, box: [982, 767, 1038, 787], y: 778, tx: 1044}]}));
build(Object.assign({}, barCommon, {canvas: [10, 1024, 680, 1300], plot: [102, 1042, 654, 1254], yTitleX: 54,
  yMin: 0, yMax: 1, yTicks: Y_TICKS_G,
  datasets: [barDs('RO', G_RO, BLUE_BAR), barDs('RPE', G_RPE, RED_BAR)],
  legend: [{ds: 1, box: [340, 1073, 395, 1093], y: 1084, tx: 401}, {ds: 0, box: [340, 1100, 395, 1119], y: 1111, tx: 401}]}));
build(Object.assign({}, barCommon, {canvas: [680, 1026, 1336, 1300], plot: [754, 1039, 1308, 1252], yTitleX: null, yTitle: null,
  yMin: -0.5, yMax: 0, yTicks: Y_TICKS_H,
  datasets: [barDs('reduced GLM1 (RO)', H_GLM1_RO, BLUE_BAR), barDs('reduced GLM2 (RPE)', H_GLM2_RPE, RED_BAR),
    {type: 'line', label: 'zero', data: [{x: BAR_XMIN, y: H_ZERO[0]}, {x: BAR_XMAX, y: H_ZERO[1]}],
     borderColor: '#111', borderWidth: 2, borderDash: [2, 2], pointRadius: 0, fill: false, order: 0}],
  legend: [{ds: 1, box: [917, 1178, 974, 1197], y: 1189, tx: 980}, {ds: 0, box: [917, 1204, 974, 1223], y: 1215, tx: 980}]}));
</script>
</body></html>
